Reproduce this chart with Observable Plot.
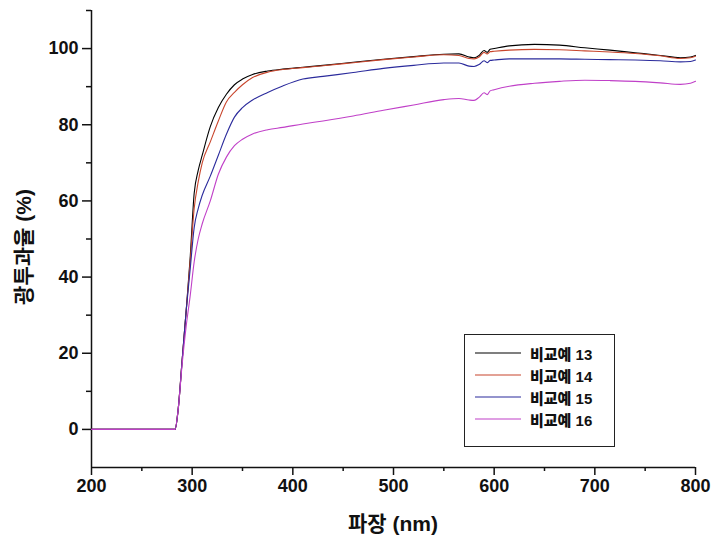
<!DOCTYPE html>
<html>
<head>
<meta charset="utf-8">
<script src="https://cdn.jsdelivr.net/npm/d3@7"></script>
<script src="https://cdn.jsdelivr.net/npm/@observablehq/plot@0.6"></script>
<style>
  body { margin: 0; background: #fff; }
  #wrap { position: relative; width: 712px; height: 550px; font-family: "Liberation Sans", Arial, "Noto Sans CJK KR", sans-serif; }
  #wrap svg text { font-family: "Liberation Sans", Arial, sans-serif; font-weight: bold; font-size: 18px; fill: #111; }
  .ttl { position: absolute; font-weight: bold; font-size: 21px; color: #111; white-space: nowrap; font-family: "Liberation Sans", Arial, "Noto Sans CJK KR", sans-serif; }
  #legend { position: absolute; left: 464px; top: 334px; width: 151px; height: 113px; border: 1.5px solid #222; background: #fff; box-sizing: border-box; }
  .lrow { position: absolute; left: 0; height: 20px; display: flex; align-items: center; }
  .lrow svg { margin-left: 10px; }
  .lrow span { margin-left: 9px; font-weight: 900; font-size: 15px; color: #111; font-family: "Liberation Sans", Arial, "Noto Sans CJK KR", sans-serif; }
</style>
</head>
<body>
<div id="wrap"></div>
<script>
// Data
const seriesNames = ["비교예 13", "비교예 14", "비교예 15", "비교예 16"];
const seriesColors = ["#000000", "#c8452c", "#2b2b9c", "#c040c8"];
const wavelength = [200, 283, 286, 290, 294, 298, 302, 306, 310, 318, 326, 334, 342, 350, 360, 375, 390, 410, 430, 460, 490, 520, 550, 565, 575, 580, 585, 590, 593, 596, 600, 615, 640, 665, 690, 715, 740, 765, 785, 795, 800];
const ex13 = [0, 0, 5, 18, 31, 45, 62, 68, 72, 79.5, 84.5, 88, 90.5, 92, 93.2, 94.1, 94.6, 95.1, 95.6, 96.4, 97.2, 97.9, 98.5, 98.6, 97.8, 97.6, 98.2, 99.5, 99.0, 99.8, 100.0, 100.7, 101.1, 100.9, 100.2, 99.6, 98.9, 98.2, 97.6, 97.8, 98.2];
const ex14 = [0, 0, 5, 18, 31, 44, 58, 65, 70, 75.5, 81, 86, 88.5, 90.5, 92.4, 93.8, 94.5, 95, 95.5, 96.3, 97.1, 97.8, 98.4, 98.2, 97.4, 97.3, 97.8, 99.0, 98.6, 99.2, 99.3, 99.6, 99.8, 99.7, 99.4, 99.1, 98.7, 98.1, 97.4, 97.6, 98.0];
const ex15 = [0, 0, 5, 18, 31, 42, 53, 58, 61.5, 66.5, 72, 77.5, 82, 84.5, 86.5, 88.5, 90.2, 92, 92.7, 93.7, 94.8, 95.6, 96.2, 96.2, 95.4, 95.3, 95.8, 96.8, 96.3, 96.9, 97.0, 97.3, 97.3, 97.3, 97.2, 97.1, 97.0, 96.8, 96.5, 96.6, 97.0];
const ex16 = [0, 0, 5, 17, 27, 35, 44, 50, 54, 60, 67, 71.5, 74.5, 76.2, 77.6, 78.7, 79.3, 80.2, 81, 82.3, 83.8, 85.2, 86.6, 86.9, 86.5, 86.4, 87.2, 88.4, 87.9, 88.9, 89.2, 90.1, 90.9, 91.4, 91.7, 91.6, 91.4, 91.0, 90.6, 90.9, 91.4];
const xMajor = [200, 300, 400, 500, 600, 700, 800];
const xMinor = [250, 350, 450, 550, 650, 750];
const yMajor = [0, 20, 40, 60, 80, 100];
const yMinor = [10, 30, 50, 70, 90, 110];
const xTitle = "파장 (nm)";
const yTitle = "광투과율 (%)";

const allSeries = [ex13, ex14, ex15, ex16];
const data = [];
allSeries.forEach((vals, i) => {
  vals.forEach((v, j) => data.push({series: seriesNames[i], wl: wavelength[j], t: v}));
});

const chart = Plot.plot({
  width: 712,
  height: 550,
  marginLeft: 91,
  marginRight: 17,
  marginTop: 10,
  marginBottom: 83,
  x: {domain: [200, 800]},
  y: {domain: [-10, 110]},
  color: {domain: seriesNames, range: seriesColors},
  marks: [
    Plot.axisX({ticks: xMajor, tickSize: 8, tickPadding: 4, label: null, stroke: "#111", strokeWidth: 1.5}),
    Plot.axisX({ticks: xMinor, tickSize: 4, tickFormat: () => "", label: null, stroke: "#111", strokeWidth: 1.5}),
    Plot.axisY({ticks: yMajor, tickSize: 9, tickPadding: 4, label: null, stroke: "#111", strokeWidth: 1.5}),
    Plot.axisY({ticks: yMinor, tickSize: 5, tickFormat: () => "", label: null, stroke: "#111", strokeWidth: 1.5}),
    Plot.ruleY([-10], {stroke: "#111", strokeWidth: 1.5}),
    Plot.ruleX([200], {stroke: "#111", strokeWidth: 1.5}),
    Plot.line(data, {x: "wl", y: "t", z: "series", stroke: "series", strokeWidth: 1.1, curve: "monotone-x"})
  ]
});

const wrap = document.getElementById("wrap");
wrap.appendChild(chart);

// Axis titles
const xt = document.createElement("div");
xt.className = "ttl";
xt.textContent = xTitle;
xt.style.left = "393px";
xt.style.top = "522px";
xt.style.transform = "translate(-50%, -50%)";
wrap.appendChild(xt);

const yt = document.createElement("div");
yt.className = "ttl";
yt.textContent = yTitle;
yt.style.left = "22px";
yt.style.top = "247px";
yt.style.transform = "translate(-50%, -50%) rotate(-90deg)";
wrap.appendChild(yt);

// Legend
const lg = document.createElement("div");
lg.id = "legend";
seriesNames.forEach((name, i) => {
  const row = document.createElement("div");
  row.className = "lrow";
  row.style.top = (8 + i * 22) + "px";
  row.innerHTML = `<svg width="46" height="4"><line x1="0" y1="2" x2="46" y2="2" stroke="${seriesColors[i]}" stroke-width="1.2"/></svg><span>${name}</span>`;
  lg.appendChild(row);
});
wrap.appendChild(lg);
</script>
</body>
</html>
